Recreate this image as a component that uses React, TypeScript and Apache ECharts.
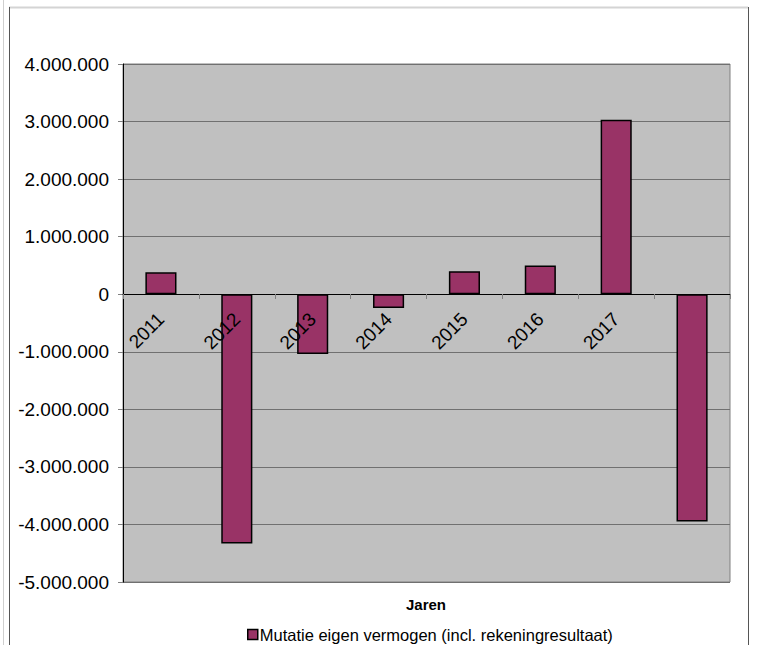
import React, { useEffect, useRef } from "react";
import * as echarts from "echarts";

const categories = ["2011", "2012", "2013", "2014", "2015", "2016", "2017", ""];
const values = [380000, -4330000, -1040000, -240000, 400000, 500000, 3030000, -3950000];
const seriesName = "Mutatie eigen vermogen (incl. rekeningresultaat)";
const axisTitle = "Jaren";

function fmt(v: number): string {
  const s = Math.abs(v).toString().replace(/\B(?=(\d{3})+(?!\d))/g, ".");
  return (v < 0 ? "-" : "") + s;
}

export default function App() {
  const ref = useRef<HTMLDivElement>(null);
  useEffect(() => {
    if (!ref.current) return;
    const chart = echarts.init(ref.current, null, { renderer: "svg" });
    const font = "Liberation Sans";
    chart.setOption({
      animation: false,
      backgroundColor: "#fff",
      grid: {
        left: 123,
        right: 28,
        top: 64,
        bottom: 63,
        show: true,
        backgroundColor: "#c0c0c0",
        borderColor: "#808080",
        borderWidth: 1,
      },
      legend: {
        left: 242,
        top: 621,
        icon: "rect",
        itemWidth: 10,
        itemHeight: 10,
        itemGap: 4,
        textStyle: { fontFamily: font, fontSize: 16.5, color: "#000", padding: [0, 0, 0, -3] },
        itemStyle: { borderColor: "#000", borderWidth: 1.5 },
        data: [seriesName],
      },
      xAxis: {
        type: "category",
        data: categories,
        boundaryGap: true,
        offset: -288,
        z: 5,
        axisLine: { onZero: false, lineStyle: { color: "#000", width: 1 } },
        axisTick: { show: true, length: 5, lineStyle: { color: "#808080" } },
        axisLabel: {
          rotate: 45,
          interval: 0,
          margin: 22,
          fontFamily: font,
          fontSize: 19,
          color: "#000",
        },
      },
      yAxis: {
        type: "value",
        min: -5000000,
        max: 4000000,
        interval: 1000000,
        axisLine: { show: true, lineStyle: { color: "#000", width: 1 } },
        axisTick: { show: true, length: 5, lineStyle: { color: "#808080" } },
        splitLine: { show: true, lineStyle: { color: "#707070", width: 1 } },
        axisLabel: {
          margin: 14,
          fontFamily: font,
          fontSize: 19,
          color: "#000",
          formatter: (v: number) => fmt(v),
        },
      },
      series: [
        {
          name: seriesName,
          type: "bar",
          data: values,
          barWidth: "41%",
          itemStyle: { color: "#993366", borderColor: "#000", borderWidth: 1.5 },
        },
      ],
      graphic: [
        { type: "line", shape: { x1: 3.5, y1: 0, x2: 3.5, y2: 645 }, style: { stroke: "#cfcfcf", lineWidth: 1 } },
        { type: "line", shape: { x1: 9, y1: 7.5, x2: 748, y2: 7.5 }, style: { stroke: "#d4d4d4", lineWidth: 2 } },
        { type: "line", shape: { x1: 9.5, y1: 7, x2: 9.5, y2: 645 }, style: { stroke: "#555", lineWidth: 1 } },
        { type: "line", shape: { x1: 748.5, y1: 7, x2: 748.5, y2: 645 }, style: { stroke: "#555", lineWidth: 1 } },
        {
          type: "text",
          x: 426,
          y: 604,
          style: {
            text: axisTitle,
            align: "center",
            verticalAlign: "middle",
            font: "bold 15px Liberation Sans",
            fill: "#000",
          },
        },
      ],
    });
    return () => chart.dispose();
  }, []);
  return (
    <div
      ref={ref}
      style={{ position: "fixed", left: 0, top: 0, width: 758, height: 645 }}
    />
  );
}
